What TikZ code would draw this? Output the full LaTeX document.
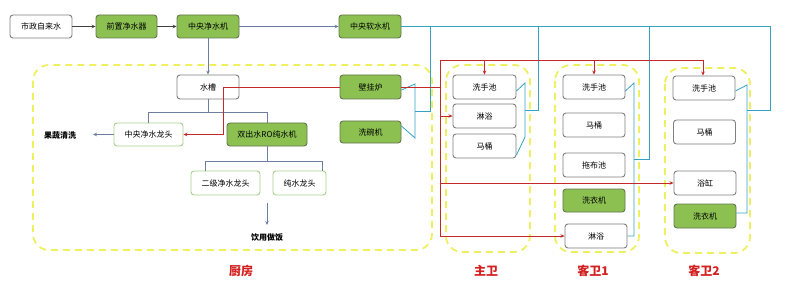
\documentclass[tikz,border=0pt]{standalone}
\usepackage{fontspec}
\newfontfamily\cjk{Noto Sans CJK SC}
\usetikzlibrary{arrows.meta}
\definecolor{boxgray}{HTML}{7F7F7F}
\definecolor{leaf}{HTML}{8CC152}
\definecolor{leafdark}{HTML}{66774E}
\definecolor{leafline}{HTML}{A8D08D}
\definecolor{pipeblue}{HTML}{35A2C4}
\definecolor{hotred}{HTML}{C62828}
\definecolor{zoneyellow}{HTML}{EEF060}
\definecolor{flowgray}{HTML}{6D7FA0}
\definecolor{labelred}{HTML}{D42020}
\tikzset{
  x=1pt, y=-1pt,
  unit/.style={draw=boxgray, line width=0.9pt, rounded corners=3pt, fill=white,
    minimum width=62pt, minimum height=24pt, inner sep=0pt,
    font=\cjk\fontsize{8}{9}\selectfont},
  gunit/.style={unit, fill=leaf, draw=leafdark},
  funit/.style={unit, draw=leafline},
  zone/.style={draw=zoneyellow, line width=1.8pt, dash pattern=on 7pt off 5pt, rounded corners=16pt},
  flow/.style={draw=flowgray, line width=0.7pt},
  flowarr/.style={flow, -{Stealth[length=4pt,width=3.5pt]}},
  blackarr/.style={draw=black!75, line width=0.7pt, -{Stealth[length=4pt,width=3.5pt]}},
  cold/.style={draw=pipeblue, line width=0.8pt},
  hot/.style={draw=hotred, line width=0.8pt},
  hotarr/.style={hot, -{Stealth[length=4pt,width=3.5pt]}},
  txt/.style={font=\cjk\bfseries\fontsize{8}{9}\selectfont, inner sep=0pt},
  zlabel/.style={font=\cjk\bfseries\fontsize{12}{14}\selectfont, text=labelred, inner sep=0pt},
}
\begin{document}
\begin{tikzpicture}
\useasboundingbox (0,0) rectangle (800,294);
\fill[white] (0,0) rectangle (800,294);

% zones
\draw[zone] (33,65) rectangle (432,250);
\draw[zone] (446,65) rectangle (530,252);
\draw[zone] (555,65) rectangle (639,252);
\draw[zone] (665,68) rectangle (750,253);

% top row
\node[unit, minimum height=23pt] (tap) at (41,26.5) {市政自来水};
\node[gunit, minimum width=61pt, minimum height=23pt] (pre) at (126.5,26.5) {前置净水器};
\node[gunit, minimum height=23pt] (cpur) at (208,26.5) {中央净水机};
\node[gunit, minimum height=23pt] (soft) at (370,26.5) {中央软水机};

% kitchen
\node[unit] (sink) at (208,87) {水槽};
\node[gunit, minimum width=61pt] (boiler) at (370.5,87) {壁挂炉};
\node[gunit, minimum width=61pt, minimum height=22pt] (dish) at (370.5,132) {洗碗机};
\node[funit, minimum width=69pt, minimum height=23pt] (cfau) at (148.5,134.5) {中央净水龙头};
\node[gunit, minimum width=80pt, minimum height=23pt] (ro) at (267,134.5) {双出水RO纯水机};
\node[funit, minimum width=69pt] (f2) at (225.5,183) {二级净水龙头};
\node[funit, minimum width=53pt] (fp) at (299.5,183) {纯水龙头};
\node[txt] (veg) at (60,135) {果蔬清洗};
\coordinate (vegEnd) at (93,134.5);
\node[txt] (cook) at (267,237) {饮用做饭};
\coordinate (cookTop) at (267,203);
\coordinate (cookEnd) at (267,225);

% master bath
\node[unit, minimum width=63pt] (m1) at (484.5,87) {洗手池};
\node[unit, minimum width=63pt] (m2) at (484.5,116) {淋浴};
\node[unit, minimum width=63pt] (m3) at (484.5,146) {马桶};
% guest bath 1
\node[unit] (g1) at (594,87) {洗手池};
\node[unit] (g2) at (594,125) {马桶};
\node[unit] (g3) at (594,165) {拖布池};
\node[gunit, minimum height=23pt] (g4) at (594,200.5) {洗衣机};
\node[unit] (g5) at (596,236) {淋浴};
% guest bath 2
\node[unit] (k1) at (704,88) {洗手池};
\node[unit] (k2) at (704.5,132) {马桶};
\node[unit] (k3) at (705,183) {浴缸};
\node[gunit] (k4) at (705,216) {洗衣机};

% zone labels
\node[zlabel] (lk) at (241,271) {厨房};
\node[zlabel] (lm) at (486,271) {主卫};
\node[zlabel] (lg1) at (593,271) {客卫1};
\node[zlabel] (lg2) at (704,271) {客卫2};

% top flow
\draw[blackarr] (tap) -- (pre);
\draw[blackarr] (pre) -- (cpur);
\draw[flowarr] (cpur) -- (soft);

% cold (softened) water distribution
\coordinate (sEnd) at (770,26.5);
\draw[cold] (soft.east) -- (sEnd) -- (770,110) -- (747,110);
\draw[cold] ([yshift=-3pt]k1.east) -- (747,85) -- (747,213) -- ([yshift=3pt]k4.east);
\draw[cold] (430,26.5) -- (430,111) -- (415,111);
\draw[cold] ([yshift=-3pt]boiler.east) -- (415,84) -- (415,138) -- ([yshift=6pt]dish.east);
\draw[cold] (538,26.5) -- (538,110) -- (525,110);
\draw[cold] ([yshift=-4pt]m1.east) -- (525,83) -- (525,137) -- ([yshift=-9pt]m3.east);
\draw[cold] (649,26.5) -- (649,159) -- (634,159);
\draw[cold] ([yshift=-4pt]g1.east) -- (634,83) -- (634,236) -- (g5.east);

% kitchen purified flow
\draw[flowarr] (cpur) -- (sink);
\draw[flow] (sink.south) -- (208,112);
\draw[flow] (cfau.north) -- (148.5,112) -- (267,112) -- (ro.north);
\draw[flow] (ro.south) -- (267,161);
\draw[flow] (f2.north -| 205,0) -- (205,161) -- (322,161) -- (fp.north -| 322,0);
\draw[flowarr] (cfau.west) -- (vegEnd);
\draw[flowarr] (cookTop) -- (cookEnd);

% hot water
\draw[hotarr] (boiler.west) -- (223,87) -- (223,134.5) -- (cfau.east);
\draw[hot] (boiler.east) -- (440,87);
\draw[hot] (440,236) -- (440,60) -- (703,60);
\draw[hotarr] (m1.north |- 0,60) -- (m1.north);
\draw[hotarr] (g1.north |- 0,60) -- (g1.north);
\draw[hotarr] (703,60) -- (k1.north -| 703,0);
\draw[hotarr] (440,116) -- (m2.west);
\draw[hotarr] (440,183) -- (k3.west);
\draw[hotarr] (440,236) -- (g5.west);
\end{tikzpicture}
\end{document}
